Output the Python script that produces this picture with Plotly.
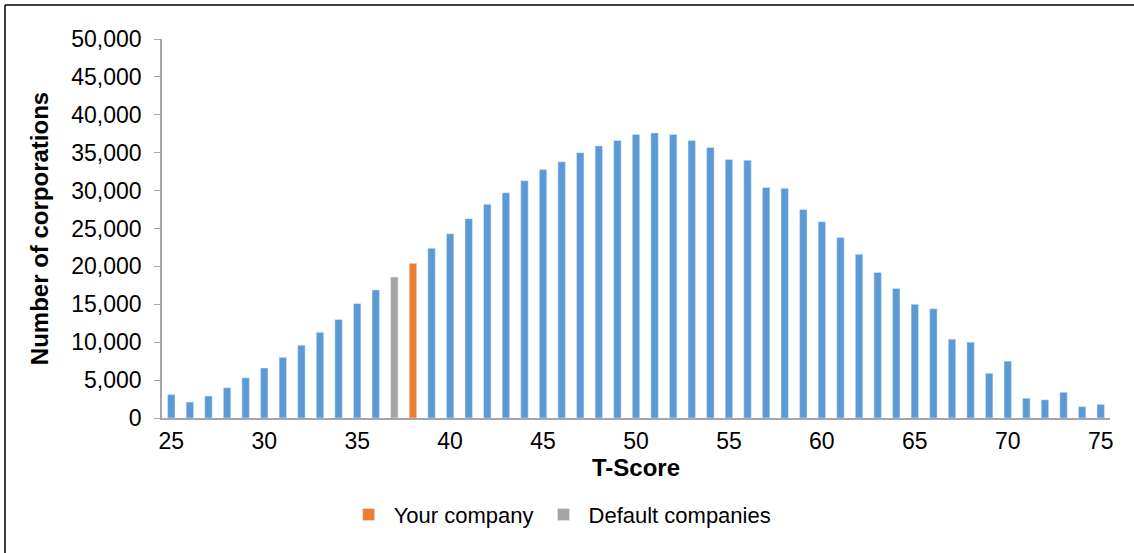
import plotly.graph_objects as go

# T-score distribution of corporations
t_scores = list(range(25, 76))
counts = [
    3100, 2100, 2900, 4000, 5300, 6600, 8000, 9600, 11300, 13000,
    15100, 16900, 18600, 20400, 22400, 24300, 26300, 28200, 29700, 31300,
    32800, 33800, 35000, 35900, 36600, 37400, 37600, 37400, 36600, 35700,
    34100, 34000, 30400, 30300, 27500, 25900, 23800, 21600, 19200, 17100,
    15000, 14400, 10400, 10000, 5900, 7500, 2600, 2400, 3400, 1500,
    1800,
]
your_company_score = 38
default_score = 37
x_ticks = [25, 30, 35, 40, 45, 50, 55, 60, 65, 70, 75]
y_ticks = list(range(0, 50001, 5000))

BLUE = "#5B9BD5"
ORANGE = "#ED7D31"
GRAY = "#A5A5A5"
FONT = "Liberation Sans, Arial, sans-serif"


def pick(score):
    return [c for t, c in zip(t_scores, counts) if t == score]


rest_x = [t for t in t_scores if t not in (your_company_score, default_score)]
rest_y = [c for t, c in zip(t_scores, counts) if t not in (your_company_score, default_score)]

fig = go.Figure()
fig.add_trace(go.Bar(x=rest_x, y=rest_y, marker_color=BLUE, width=0.4,
                     showlegend=False, name="All companies"))
fig.add_trace(go.Bar(x=[your_company_score], y=pick(your_company_score),
                     marker_color=ORANGE, width=0.4, name="Your company"))
fig.add_trace(go.Bar(x=[default_score], y=pick(default_score),
                     marker_color=GRAY, width=0.4, name="Default companies"))

fig.update_layout(
    width=1134, height=553,
    margin=dict(l=162, r=24, t=39, b=135),
    paper_bgcolor="white", plot_bgcolor="white",
    font=dict(family=FONT, size=23, color="black"),
    barmode="overlay",
    legend=dict(orientation="h", x=0.42, y=-0.255, xanchor="center", yanchor="middle",
                font=dict(size=22), itemwidth=40, traceorder="normal"),
    xaxis=dict(
        range=[24.5, 75.5], tickvals=x_ticks, showgrid=False, zeroline=False,
        showline=True, linecolor="#A6A6A6", linewidth=1.5, ticks="",
        ticklabelstandoff=2,
        title=dict(text="<b>T-Score</b>", font=dict(size=24), standoff=3),
    ),
    yaxis=dict(
        range=[0, 50000], tickvals=y_ticks, tickformat=",d", showgrid=False,
        zeroline=False, showline=True, linecolor="#A6A6A6", linewidth=1.5,
        ticks="outside", ticklen=6, tickcolor="#A6A6A6", ticklabelstandoff=8,
        title=dict(text="<b>Number of corporations</b>", font=dict(size=24), standoff=16),
    ),
    shapes=[
        dict(type="line", xref="paper", yref="paper", x0=-0.1656, x1=1.1,
             y0=1.0897, y1=1.0897, line=dict(color="black", width=1.5)),
        dict(type="line", xref="paper", yref="paper", x0=-0.1656, x1=-0.1656,
             y0=1.0897, y1=-0.4, line=dict(color="black", width=1.5)),
    ],
)

# drop the default page margin so the figure sits at the window origin
fig.write_html("out.html", config={"displayModeBar": False},
               post_script="document.body.style.margin='0';")
